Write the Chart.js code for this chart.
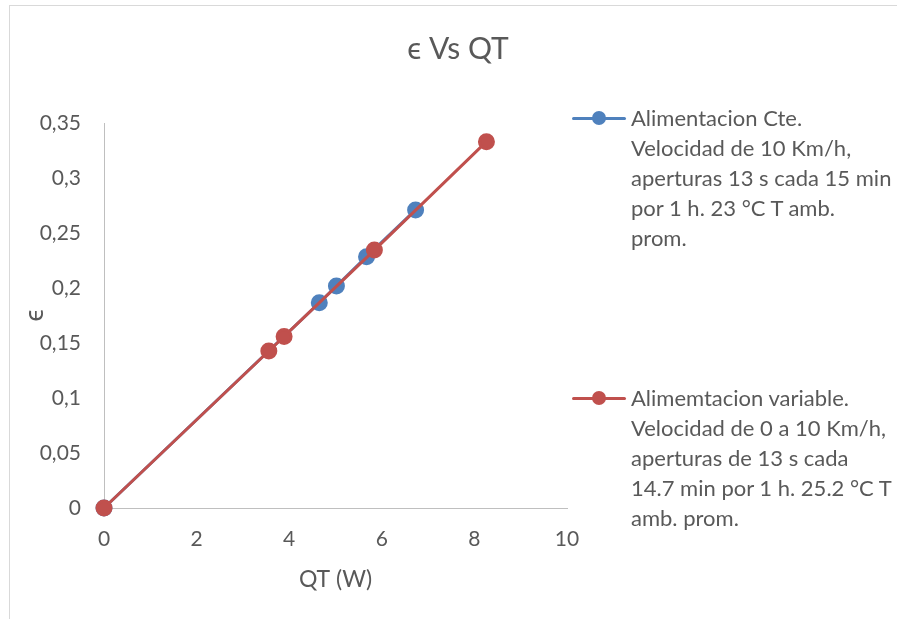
<!DOCTYPE html>
<html>
<head>
<meta charset="utf-8">
<script src="https://cdn.jsdelivr.net/npm/chart.js@4/dist/chart.umd.min.js"></script>
<style>
html, body { margin: 0; padding: 0; background: #ffffff; }
#wrap { position: relative; width: 897px; height: 619px; overflow: hidden; font-family: Lato, "Open Sans", sans-serif; }
#frame { position: absolute; left: 9px; top: 5px; width: 1000px; height: 1000px; border: 1px solid #d9d9d9; }
#c { position: absolute; left: 0; top: 0; }
.leg { position: absolute; left: 572px; color: #595959; font-size: 22px; }
.leg .sym { position: absolute; left: 0; top: 0; width: 54px; height: 30px; }
.leg .sym .ln { position: absolute; left: 0; top: 13.5px; width: 54px; height: 3px; border-radius: 2px; }
.leg .sym .dot { position: absolute; left: 20px; top: 8px; width: 14px; height: 14px; border-radius: 50%; }
.leg .txt { position: absolute; left: 59px; top: 0; white-space: nowrap; line-height: 30px; }
</style>
</head>
<body>
<div id="wrap">
  <div id="frame"></div>
  <canvas id="c" width="897" height="619"></canvas>
  <div class="leg" id="leg0" style="top:103px"></div>
  <div class="leg" id="leg1" style="top:383px"></div>
</div>
<script>
// ---- data ----
const chartTitle = "\u03F5 Vs QT";
const xTitle = "QT (W)";
const yTitle = "\u03F5";
const legendCte = ["Alimentacion Cte.", "Velocidad de 10 Km/h,", "aperturas 13 s cada 15 min", "por 1 h. 23 \u00B0C T amb.", "prom."];
const legendVar = ["Alimemtacion variable.", "Velocidad de 0 a 10 Km/h,", "aperturas de 13 s cada", "14.7 min por 1 h. 25.2 \u00B0C T", "amb. prom."];
const qtCte = [0, 4.65, 5.02, 5.67, 6.73];
const epsCte = [0, 0.1866, 0.2018, 0.2285, 0.271];
const qtVar = [0, 3.56, 3.89, 5.84, 8.26];
const epsVar = [0, 0.1427, 0.156, 0.2345, 0.333];
const xTicks = [0, 2, 4, 6, 8, 10];
const yTicks = [0, 0.05, 0.1, 0.15, 0.2, 0.25, 0.3, 0.35];

const blue = "#4F81BD";
const red = "#C0504D";
const textColor = "#595959";
const fontFamily = "Lato, 'Open Sans', sans-serif";

function pts(xs, ys) { return xs.map((x, i) => ({ x: x, y: ys[i] })); }

// ---- legend (HTML) ----
function buildLegend(id, lines, color) {
  const el = document.getElementById(id);
  el.innerHTML = '<div class="sym"><div class="ln" style="background:' + color + '"></div><div class="dot" style="background:' + color + '"></div></div>' +
    '<div class="txt">' + lines.join('<br>') + '</div>';
}
buildLegend('leg0', legendCte, blue);
buildLegend('leg1', legendVar, red);

// center the title over the whole chart (not only the plot area)
const titleCenterPlugin = {
  id: 'titleCenter',
  afterLayout(chart) {
    const tb = chart.titleBlock;
    if (tb) { tb.left = 19; tb.right = chart.width; tb.width = tb.right - tb.left; }
  }
};

// ---- chart ----
new Chart(document.getElementById('c'), {
  type: 'line',
  plugins: [titleCenterPlugin],
  data: {
    datasets: [
      {
        label: legendCte.join(' '),
        data: pts(qtCte, epsCte),
        borderColor: blue, backgroundColor: blue,
        pointBackgroundColor: blue, pointBorderColor: blue,
        borderWidth: 3, pointRadius: 7, pointHoverRadius: 7,
        order: 1, clip: false, tension: 0
      },
      {
        label: legendVar.join(' '),
        data: pts(qtVar, epsVar),
        borderColor: red, backgroundColor: red,
        pointBackgroundColor: red, pointBorderColor: red,
        borderWidth: 3, pointRadius: 7, pointHoverRadius: 7,
        order: 0, clip: false, tension: 0
      }
    ]
  },
  options: {
    responsive: false,
    animation: false,
    devicePixelRatio: 1,
    layout: { padding: { left: 0, right: 330, top: 0, bottom: 0 } },
    plugins: {
      legend: { display: false },
      tooltip: { enabled: false },
      title: {
        display: true, text: chartTitle, color: textColor,
        font: { family: fontFamily, size: 30, weight: 'normal' },
        padding: { top: 31, bottom: 56 }
      }
    },
    scales: {
      x: {
        type: 'linear', min: 0, max: 10,
        afterFit: s => { s.height = 111; },
        afterBuildTicks: s => { s.ticks = xTicks.map(v => ({ value: v })); },
        ticks: { color: textColor, padding: 19, font: { family: fontFamily, size: 21 } },
        grid: { display: false, drawTicks: false },
        border: { display: true, color: '#BFBFBF', width: 1 },
        title: { display: true, text: xTitle, color: textColor, font: { family: fontFamily, size: 23 }, padding: { top: 0, bottom: 26 } }
      },
      y: {
        type: 'linear', min: 0, max: 0.35,
        afterFit: s => { s.width = 104; },
        afterBuildTicks: s => { s.ticks = yTicks.map(v => ({ value: v })); },
        ticks: {
          color: textColor, padding: 23, font: { family: fontFamily, size: 21 },
          callback: v => String(+v.toFixed(2)).replace('.', ',')
        },
        grid: { display: false, drawTicks: false },
        border: { display: true, color: '#BFBFBF', width: 1 },
        title: { display: true, text: yTitle, color: textColor, font: { family: fontFamily, size: 26 }, padding: { top: 19, bottom: 0 } }
      }
    }
  }
});
</script>
</body>
</html>
